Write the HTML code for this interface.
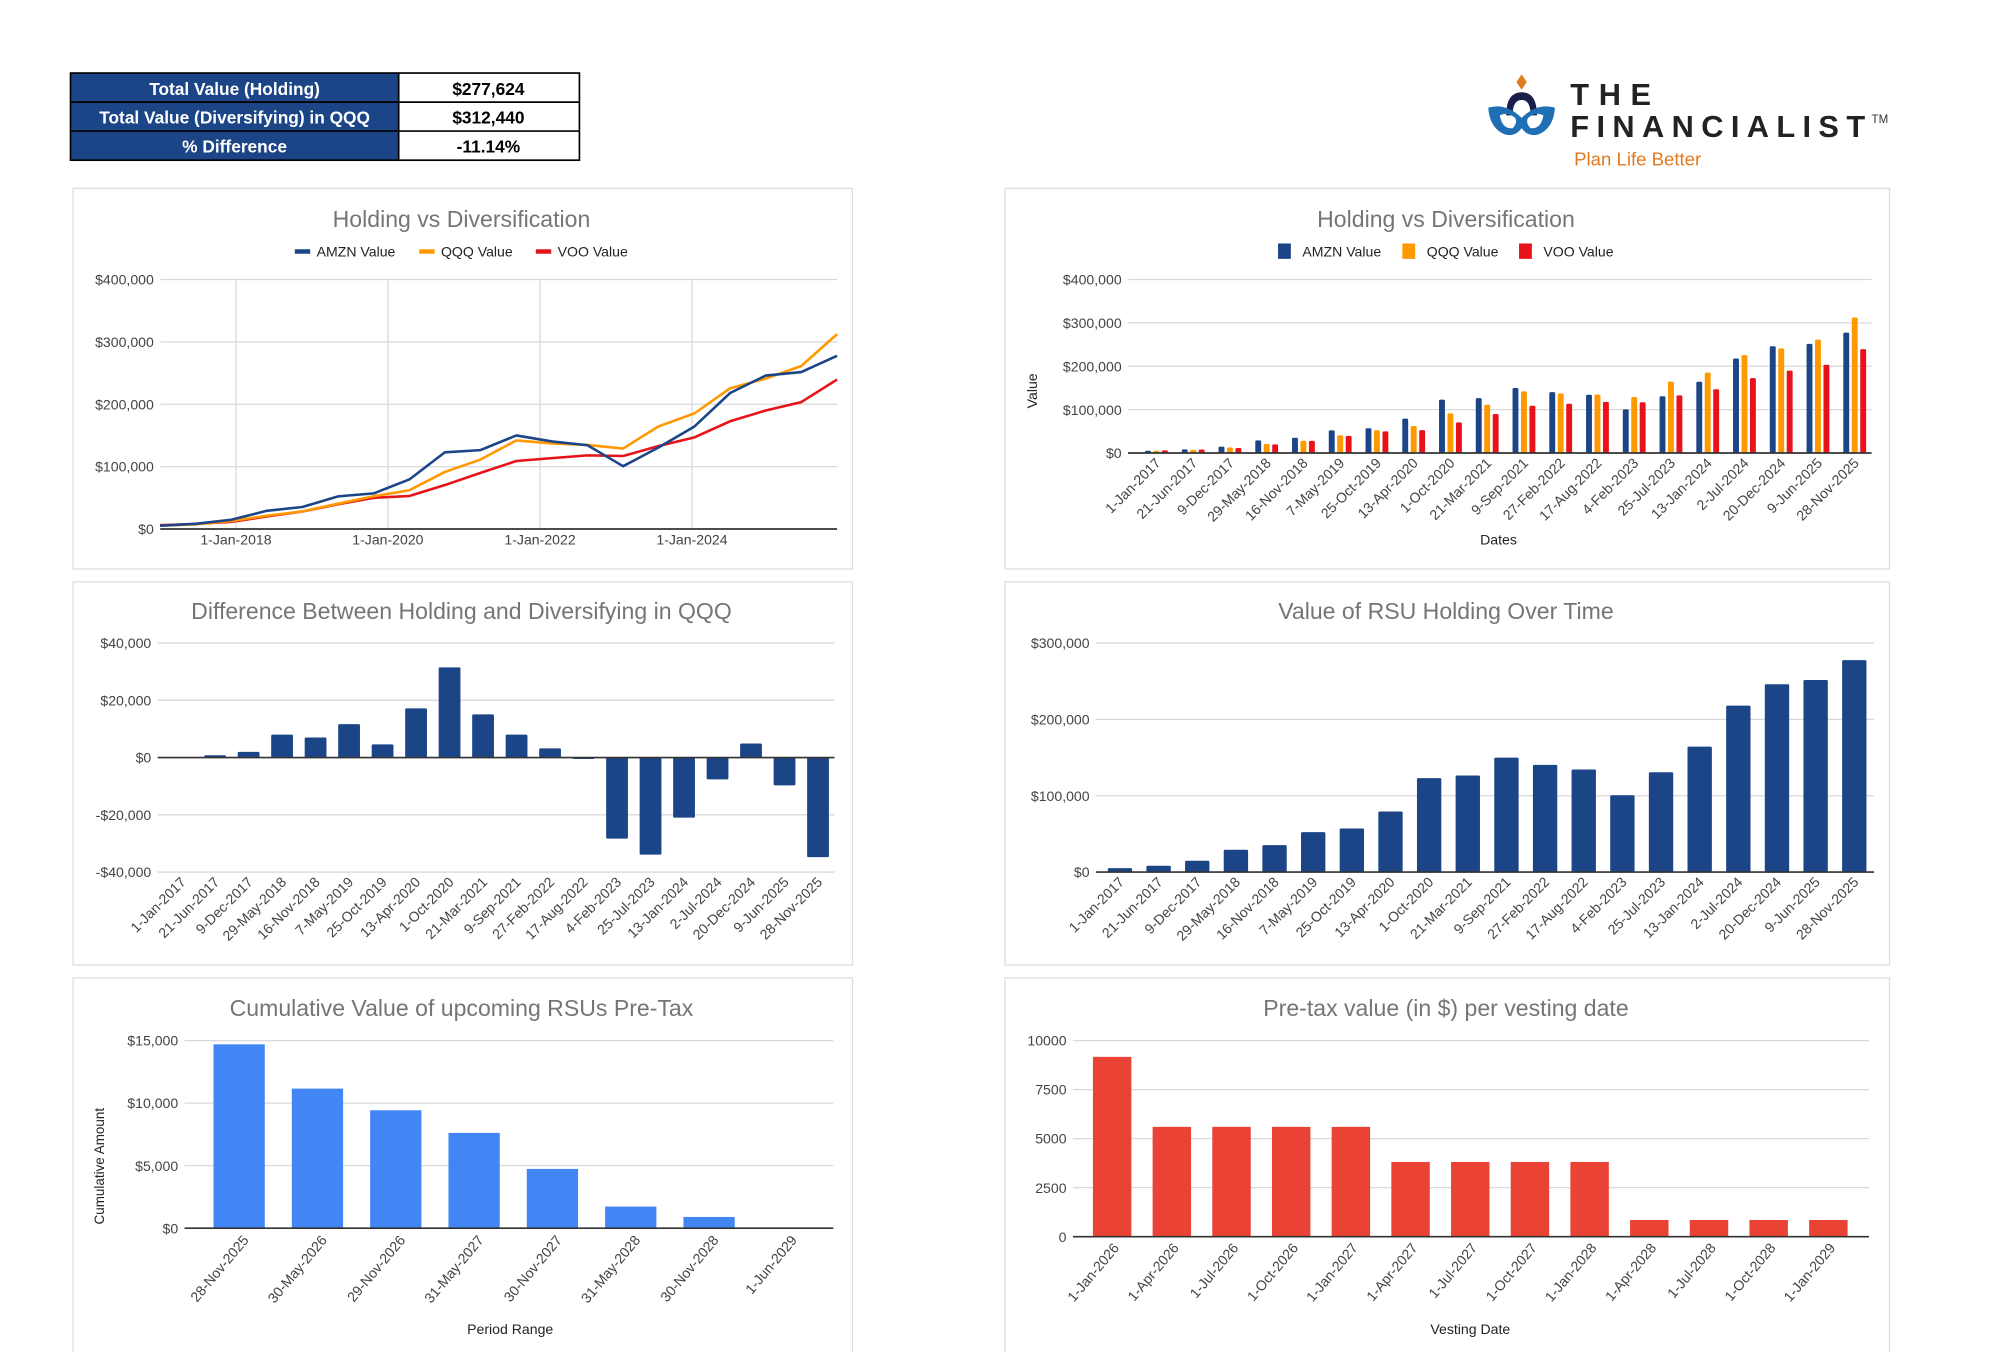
<!DOCTYPE html>
<html><head><meta charset="utf-8"><title>RSU Dashboard</title>
<style>
html,body{margin:0;padding:0;background:#fff;}
body{width:2010px;height:1352px;overflow:hidden;}
svg{display:block;font-family:"Liberation Sans",Arial,sans-serif;}
</style></head>
<body>
<svg id="root" width="2010" height="1352" viewBox="0 0 1568 1055" preserveAspectRatio="none" xmlns="http://www.w3.org/2000/svg">
  <g>
    <rect x="55" y="57" width="256" height="68" fill="#1c4587"/>
    <rect x="311" y="57" width="141" height="68" fill="#fff"/>
    <rect x="55" y="57" width="397" height="68" fill="none" stroke="#000" stroke-width="1.3"/>
    <line x1="55" y1="79.7" x2="452" y2="79.7" stroke="#000" stroke-width="1.3"/>
    <line x1="55" y1="102.3" x2="452" y2="102.3" stroke="#000" stroke-width="1.3"/>
    <line x1="311" y1="57" x2="311" y2="125" stroke="#000" stroke-width="1.3"/>
    <text x="183" y="74" fill="#fff" font-size="13.5" font-weight="bold" text-anchor="middle">Total Value (Holding)</text>
    <text x="183" y="96.5" fill="#fff" font-size="13.5" font-weight="bold" text-anchor="middle">Total Value (Diversifying) in QQQ</text>
    <text x="183" y="119" fill="#fff" font-size="13.5" font-weight="bold" text-anchor="middle">% Difference</text>
    <text x="381" y="74" fill="#000" font-size="13.5" font-weight="bold" text-anchor="middle">$277,624</text>
    <text x="381" y="96.5" fill="#000" font-size="13.5" font-weight="bold" text-anchor="middle">$312,440</text>
    <text x="381" y="119" fill="#000" font-size="13.5" font-weight="bold" text-anchor="middle">-11.14%</text>
  </g>
  <g>
    <path d="M1187 58 L1191 64 L1187 70 L1183 64 Z" fill="#e07b20"/>
    <path d="M1175 90 Q1175 72 1187 72 Q1199 72 1199 90 L1194 90 Q1194 78 1187 78 Q1180 78 1180 90 Z" fill="#1a1f4a"/>
    <path d="M1161 84 Q1175 80 1187 92 Q1199 80 1213 84 Q1212 100 1200 105 Q1192 107 1187 100 Q1182 107 1174 105 Q1162 100 1161 84 Z M1170 90 Q1172 101 1180 100 Q1184 96 1182 92 Q1176 87 1170 90 Z M1204 90 Q1202 101 1194 100 Q1190 96 1192 92 Q1198 87 1204 90 Z" fill="#1f6fb5" fill-rule="evenodd"/>
    <text x="1225" y="82" font-size="24" font-weight="bold" fill="#222" textLength="63" lengthAdjust="spacing">THE</text>
    <text x="1225" y="107" font-size="24" font-weight="bold" fill="#222" textLength="230" lengthAdjust="spacing">FINANCIALIST</text>
    <text x="1460" y="96" font-size="9" fill="#333">TM</text>
    <text x="1228" y="129" font-size="14.5" fill="#e07b20">Plan Life Better</text>
  </g>
  <g id="charts"></g>
</svg>
<script>
const dateLabels = ["1-Jan-2017","21-Jun-2017","9-Dec-2017","29-May-2018","16-Nov-2018","7-May-2019","25-Oct-2019","13-Apr-2020","1-Oct-2020","21-Mar-2021","9-Sep-2021","27-Feb-2022","17-Aug-2022","4-Feb-2023","25-Jul-2023","13-Jan-2024","2-Jul-2024","20-Dec-2024","9-Jun-2025","28-Nov-2025"];
const dateISO = ["2017-01-01","2017-06-21","2017-12-09","2018-05-29","2018-11-16","2019-05-07","2019-10-25","2020-04-13","2020-10-01","2021-03-21","2021-09-09","2022-02-27","2022-08-17","2023-02-04","2023-07-25","2024-01-13","2024-07-02","2024-12-20","2025-06-09","2025-11-28"];
const amznValues = [5.2,8.3,14.8,29.2,35.3,52.3,57.1,79.4,123,126.5,150,140.4,134.3,100.7,130.8,164.4,218,246,251.6,277.6];
const qqqValues = [5.2,7.5,12.8,21.2,28.3,40.6,52.5,62.2,91.5,111.4,142,137.2,134.8,129,164.7,185.4,225.6,241.1,261.3,312.4];
const vooValues = [6.2,8,11.5,20,28,39.6,50,52.9,70.5,90,109,113.7,118,117,133,147,172.7,190,203.5,239.6];
const diffValues = [0,0.8,2,8,7,11.7,4.6,17.2,31.5,15.1,8,3.2,-0.5,-28.3,-33.9,-21,-7.6,4.9,-9.7,-34.8];
const valueTicks = [0,100,200,300,400];
const valueTickLabels = ["$0","$100,000","$200,000","$300,000","$400,000"];
const lineXTicks = ["2018-01-01","2020-01-01","2022-01-01","2024-01-01"];
const lineXTickLabels = ["1-Jan-2018","1-Jan-2020","1-Jan-2022","1-Jan-2024"];
const diffTicks = [-40,-20,0,20,40];
const diffTickLabels = ["-$40,000","-$20,000","$0","$20,000","$40,000"];
const rsuTicks = [0,100,200,300];
const rsuTickLabels = ["$0","$100,000","$200,000","$300,000"];
const periodLabels = ["28-Nov-2025","30-May-2026","29-Nov-2026","31-May-2027","30-Nov-2027","31-May-2028","30-Nov-2028","1-Jun-2029"];
const cumulativeValues = [14700,11160,9430,7620,4740,1730,900,0];
const cumTicks = [0,5000,10000,15000];
const cumTickLabels = ["$0","$5,000","$10,000","$15,000"];
const vestLabels = ["1-Jan-2026","1-Apr-2026","1-Jul-2026","1-Oct-2026","1-Jan-2027","1-Apr-2027","1-Jul-2027","1-Oct-2027","1-Jan-2028","1-Apr-2028","1-Jul-2028","1-Oct-2028","1-Jan-2029"];
const vestValues = [9170,5600,5600,5600,5600,3810,3810,3810,3810,850,850,850,850];
const vestTicks = [0,2500,5000,7500,10000];
const vestTickLabels = ["0","2500","5000","7500","10000"];

const NS = "http://www.w3.org/2000/svg";
const root = document.getElementById("charts");
function mk(parent, tag, attrs, txt) {
  const e = document.createElementNS(NS, tag);
  for (const k in attrs) e.setAttribute(k, attrs[k]);
  if (txt !== undefined) e.textContent = txt;
  parent.appendChild(e);
  return e;
}
function lin(d0, d1, r0, r1) { return v => r0 + (v - d0) / (d1 - d0) * (r1 - r0); }
const GRID = "#d9d9d9", TXT = "#444", TITLE = "#757575";
const NAVY = "#1c4587", ORANGE = "#ff9900", RED = "#e8131a";

function panel(x, y, w, h, name) {
  const g = mk(root, "g", {});
  
  
  const r = mk(g, "rect", {x: x, y: y, width: w, height: h, fill: "#fff", stroke: "#dedede", "stroke-width": 1});
  
  
  return g;
}
function title(g, x, y, t) {
  const e = mk(g, "text", {x: x, y: y, "font-size": 18, fill: TITLE, "text-anchor": "middle"}, t);
  
  
}
function yAxis(g, ticks, labels, ys, x0, x1) {
  ticks.forEach((t, i) => {
    const y = ys(t);
    const l = mk(g, "line", {x1: x0, x2: x1, y1: y, y2: y, stroke: GRID, "stroke-width": 1});
    
    
    const tx = mk(g, "text", {x: x0 - 5, y: y + 4, "font-size": 11, fill: TXT, "text-anchor": "end"}, labels[i]);
    
    
  });
}
function baseLine(g, x0, x1, y) {
  const l = mk(g, "line", {x1: x0, x2: x1, y1: y, y2: y, stroke: "#333", "stroke-width": 1.3});
  
  
}
function rotLabel(g, x, y, t, ang) {
  const e = mk(g, "text", {x: x, y: y, "font-size": 11, fill: TXT, "text-anchor": "end", transform: "rotate(" + ang + " " + x + " " + y + ")"}, t);
  
  
}

(function () {
  const g = panel(57, 147, 608, 297, "holding-vs-diversification-line-chart");
  title(g, 360, 177, "Holding vs Diversification");
  const leg = [["AMZN Value", NAVY, 230], ["QQQ Value", ORANGE, 327], ["VOO Value", RED, 418]];
  leg.forEach(l => {
    const m = mk(g, "rect", {x: l[2], y: 194.5, width: 12, height: 3.5, fill: l[1]});
    
    
    const t = mk(g, "text", {x: l[2] + 17, y: 200, "font-size": 11, fill: "#222"}, l[0]);
    
    
  });
  const t0 = Date.parse("2017-01-01"), t1 = Date.parse("2025-11-28");
  const xs = lin(t0, t1, 124.8, 653);
  const ys = lin(0, 400, 412.8, 218.1);
  yAxis(g, valueTicks, valueTickLabels, ys, 125, 653);
  lineXTicks.forEach((d, i) => {
    const x = xs(Date.parse(d));
    const l = mk(g, "line", {x1: x, x2: x, y1: 218, y2: 413, stroke: GRID, "stroke-width": 1});
    
    
    const t = mk(g, "text", {x: x, y: 425, "font-size": 11, fill: TXT, "text-anchor": "middle"}, lineXTickLabels[i]);
    
    
  });
  baseLine(g, 125, 653, 412.8);
  [[vooValues, RED, "voo-line"], [qqqValues, ORANGE, "qqq-line"], [amznValues, NAVY, "amzn-line"]].forEach(s => {
    const pts = s[0].map((v, i) => xs(Date.parse(dateISO[i])).toFixed(2) + "," + ys(v).toFixed(2)).join(" ");
    const p = mk(g, "polyline", {points: pts, fill: "none", stroke: s[1], "stroke-width": 2, "stroke-linejoin": "round"});
    
    
  });
})();

(function () {
  const g = panel(784, 147, 690, 297, "holding-vs-diversification-bar-chart");
  title(g, 1128, 177, "Holding vs Diversification");
  const leg = [["AMZN Value", NAVY, 997], ["QQQ Value", ORANGE, 1094], ["VOO Value", RED, 1185]];
  leg.forEach(l => {
    const m = mk(g, "rect", {x: l[2], y: 190, width: 10, height: 12, fill: l[1]});
    
    
    const t = mk(g, "text", {x: l[2] + 19, y: 200, "font-size": 11, fill: "#222"}, l[0]);
    
    
  });
  const ys = lin(0, 400, 353.5, 218.1);
  yAxis(g, valueTicks, valueTickLabels, ys, 880, 1460);
  const band = 28.67, x0 = 887.8;
  const series = [[amznValues, NAVY, -6.6, "bar-amzn"], [qqqValues, ORANGE, 0, "bar-qqq"], [vooValues, RED, 6.6, "bar-voo"]];
  dateLabels.forEach((d, i) => {
    const cx = x0 + band * (i + 0.5);
    series.forEach(s => {
      const v = s[0][i];
      const b = mk(g, "rect", {x: cx + s[2] - 2.3, y: ys(v), width: 4.6, height: ys(0) - ys(v), fill: s[1], rx: 1});
      
      
    });
    rotLabel(g, cx + 4, 362, d, -45);
  });
  baseLine(g, 880, 1460, ys(0));
  const yt = mk(g, "text", {x: 809, y: 305, "font-size": 11, fill: "#222", "text-anchor": "middle", transform: "rotate(-90 809 305)"}, "Value");
  
  
  const xt = mk(g, "text", {x: 1169, y: 425, "font-size": 11, fill: "#222", "text-anchor": "middle"}, "Dates");
  
  
})();

(function () {
  const g = panel(57, 454, 608, 299, "difference-chart");
  title(g, 360, 483, "Difference Between Holding and Diversifying in QQQ");
  const ys = lin(-40, 40, 680.5, 501.8);
  yAxis(g, diffTicks, diffTickLabels, ys, 123, 651);
  const band = 26.13, x0 = 128.6;
  dateLabels.forEach((d, i) => {
    const cx = x0 + band * (i + 0.5);
    const v = diffValues[i];
    const top = Math.min(ys(v), ys(0)), h = Math.abs(ys(v) - ys(0));
    const b = mk(g, "rect", {x: cx - 8.5, y: top, width: 17, height: h, fill: NAVY, rx: 1});
    
    
    rotLabel(g, cx + 4, 689, d, -45);
  });
  baseLine(g, 123, 651, ys(0));
})();

(function () {
  const g = panel(784, 454, 690, 299, "rsu-holding-chart");
  title(g, 1128, 483, "Value of RSU Holding Over Time");
  const ys = lin(0, 300, 680.5, 501.8);
  yAxis(g, rsuTicks, rsuTickLabels, ys, 855, 1462);
  const band = 30.15, x0 = 858.6;
  dateLabels.forEach((d, i) => {
    const cx = x0 + band * (i + 0.5);
    const v = amznValues[i];
    const b = mk(g, "rect", {x: cx - 9.5, y: ys(v), width: 19, height: ys(0) - ys(v), fill: NAVY, rx: 1});
    
    
    rotLabel(g, cx + 4, 689, d, -45);
  });
  baseLine(g, 855, 1462, ys(0));
})();

(function () {
  const g = panel(57, 763, 608, 300, "cumulative-rsu-chart");
  title(g, 360, 793, "Cumulative Value of upcoming RSUs Pre-Tax");
  const ys = lin(0, 15000, 958.4, 812);
  yAxis(g, cumTicks, cumTickLabels, ys, 144, 650);
  const band = 61.1, x0 = 156;
  periodLabels.forEach((d, i) => {
    const cx = x0 + band * (i + 0.5);
    const v = cumulativeValues[i];
    const b = mk(g, "rect", {x: cx - 20, y: ys(v), width: 40, height: ys(0) - ys(v), fill: "#4285f4"});
    
    
    rotLabel(g, cx + 8, 968, d, -50);
  });
  baseLine(g, 144, 650, ys(0));
  const yt = mk(g, "text", {x: 81, y: 910, "font-size": 10.5, fill: "#222", "text-anchor": "middle", transform: "rotate(-90 81 910)"}, "Cumulative Amount");
  
  
  const xt = mk(g, "text", {x: 398, y: 1041, "font-size": 11, fill: "#222", "text-anchor": "middle"}, "Period Range");
  
  
})();

(function () {
  const g = panel(784, 763, 690, 300, "vesting-value-chart");
  title(g, 1128, 793, "Pre-tax value (in $) per vesting date");
  const ys = lin(0, 10000, 965, 812);
  yAxis(g, vestTicks, vestTickLabels, ys, 837, 1458);
  const band = 46.56, x0 = 844.3;
  vestLabels.forEach((d, i) => {
    const cx = x0 + band * (i + 0.5);
    const v = vestValues[i];
    const b = mk(g, "rect", {x: cx - 15, y: ys(v), width: 30, height: ys(0) - ys(v), fill: "#ea4335"});
    
    
    rotLabel(g, cx + 6, 974, d, -50);
  });
  baseLine(g, 837, 1458, ys(0));
  const xt = mk(g, "text", {x: 1147, y: 1041, "font-size": 11, fill: "#222", "text-anchor": "middle"}, "Vesting Date");
  
  
})();
</script>
</body></html>
